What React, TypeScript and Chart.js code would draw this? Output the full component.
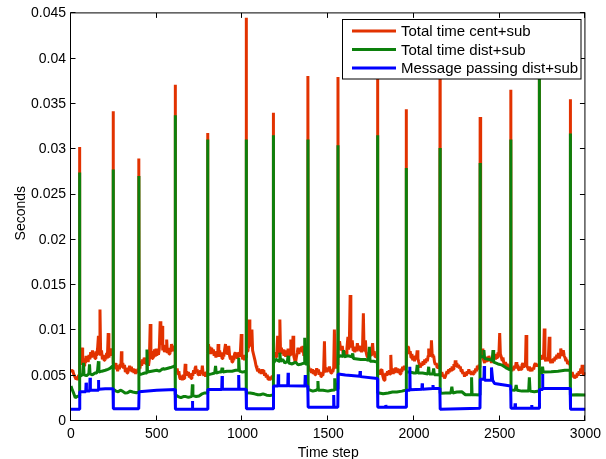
import React, { useEffect, useRef } from "react";
import { Chart, registerables } from "chart.js";

Chart.register(...registerables);

const xTicks = [0, 500, 1000, 1500, 2000, 2500, 3000];
const yTicks = [0, 0.005, 0.01, 0.015, 0.02, 0.025, 0.03, 0.035, 0.04, 0.045];
const xTitle = "Time step";
const yTitle = "Seconds";
const seriesLabels = ["Total time cent+sub", "Total time dist+sub", "Message passing dist+sub"];
const seriesColors = ["#e23200", "#0c800c", "#0000ff"];

// [time step, seconds]
const redSeries: [number, number][] = [
  [0, .0057], [5, .0054], [10, .0056], [15, .0052], [20, .0050], [25, .0048], [30, .0046], [35, .0049], [40, .0045], [44, .0050], [49, .0051],
  [50, .03025],
  [51, .0064], [55, .0070], [60, .0062], [65, .0081], [68, .0063], [72, .0069], [76, .0061], [80, .0068], [84, .0064], [88, .0072], [92, .0066],
  [96, .0071], [100, .0065], [105, .0073], [110, .0068], [115, .0076], [120, .0070], [125, .0078], [130, .0071], [135, .0074], [140, .0069],
  [145, .0077], [150, .0072], [155, .0080], [160, .0094], [164, .0074], [169, .0123], [173, .0072], [178, .0078], [183, .0068], [188, .0073],
  [193, .0067], [198, .0072], [203, .0068], [208, .0075], [212, .0069], [217, .0097], [221, .0070], [226, .0077], [231, .0072], [236, .0080],
  [240, .0074], [245, .0079],
  [246, .0342],
  [247, .0064], [252, .0058], [257, .0064], [262, .0057], [267, .0062], [272, .0055], [277, .0060], [282, .0057], [287, .0063], [291, .0059],
  [294, .0077], [297, .0060], [302, .0064], [307, .0058], [312, .0062], [317, .0054], [322, .0058], [327, .0053], [332, .0059], [337, .0056],
  [342, .0061], [347, .0055], [352, .0060], [357, .0054], [362, .0058], [367, .0053], [372, .0057], [377, .0052], [382, .0056], [387, .0053],
  [392, .0058], [395, .0056],
  [396, .02897],
  [397, .0063], [402, .0058], [407, .0066], [412, .0061], [417, .0068], [422, .0063], [427, .0070], [432, .0064], [437, .0069], [442, .0062],
  [447, .0067], [452, .0061], [457, .0068], [462, .0107], [466, .0070], [470, .0077], [474, .0069], [478, .0075], [482, .0070], [487, .0079],
  [491, .0071], [496, .0080], [500, .0072], [505, .0078], [510, .0073], [515, .0080], [520, .0110], [524, .0084], [528, .0090], [531, .0105],
  [535, .0078], [540, .0084], [545, .0076], [550, .0082], [555, .0077], [558, .0090], [562, .0075], [567, .0080], [572, .0074], [577, .0081],
  [582, .0076], [586, .0085], [590, .0078], [595, .0083], [600, .0077], [604, .0082], [607, .0080],
  [608, .03713],
  [609, .0058], [614, .0054], [619, .0058], [624, .0052], [629, .0055], [634, .0048], [639, .0046], [644, .0050], [649, .0045], [654, .0051],
  [659, .0047], [663, .0054], [666, .0063], [670, .0050], [675, .0055], [680, .0050], [685, .0054], [690, .0048], [695, .0052], [700, .0047],
  [705, .0053], [710, .0050], [715, .0056], [720, .0052], [724, .0059], [727, .0061], [731, .0054], [736, .0057], [741, .0051], [746, .0054],
  [751, .0050], [756, .0056], [761, .0052], [766, .0061], [770, .0053], [775, .0050], [780, .0054], [785, .0049], [790, .0053], [796, .0055],
  [797, .0318],
  [798, .0075], [802, .0085], [806, .0076], [810, .0082], [815, .0074], [820, .0081], [825, .0075], [830, .0079], [835, .0072], [840, .0076],
  [845, .0070], [850, .0077], [855, .0071], [858, .0085], [862, .0074], [867, .0078], [872, .0071], [877, .0075], [881, .0069], [886, .0076],
  [891, .0071], [896, .0079], [901, .0085], [905, .0074], [910, .0080], [915, .0073], [920, .0083], [925, .0072], [930, .0068], [935, .0072],
  [939, .0065], [944, .0071], [949, .0067], [954, .0074], [958, .0076], [963, .0070], [968, .0075], [973, .0069], [978, .0076], [983, .0071],
  [988, .0077], [993, .0096], [997, .0072], [1002, .0068], [1007, .0073], [1012, .0067], [1017, .0072], [1021, .0070],
  [1022, .04452],
  [1023, .0082], [1028, .0077], [1032, .0088], [1036, .0080], [1039, .0112], [1043, .0084], [1047, .0092], [1051, .0083], [1055, .0101],
  [1059, .0078], [1064, .0074], [1069, .0070], [1074, .0066], [1079, .0061], [1084, .0058], [1089, .0055], [1094, .0058], [1099, .0053],
  [1104, .0056], [1109, .0052], [1114, .0057], [1119, .0053], [1124, .0056], [1129, .0050], [1134, .0053], [1139, .0048], [1144, .0051],
  [1149, .0046], [1154, .0049], [1159, .0045], [1164, .0048], [1169, .0046], [1174, .0050], [1179, .0049],
  [1180, .03404],
  [1181, .0068], [1185, .0073], [1189, .0070], [1193, .0076], [1197, .0071], [1201, .0078], [1205, .0094], [1209, .0074], [1214, .0080],
  [1218, .0112], [1222, .0075], [1227, .0081], [1232, .0074], [1237, .0079], [1242, .0072], [1247, .0077], [1252, .0071], [1257, .0078],
  [1262, .0073], [1266, .0080], [1270, .0072], [1275, .0077], [1279, .0073], [1282, .0090], [1286, .0074], [1291, .0079], [1295, .0094],
  [1299, .0072], [1304, .0068], [1309, .0064], [1314, .0070], [1319, .0075], [1324, .0081], [1329, .0074], [1334, .0080], [1340, .0077],
  [1345, .0082], [1350, .0076], [1353, .0083], [1358, .0072], [1363, .0075], [1368, .0066], [1373, .0070], [1378, .0067], [1381, .0070],
  [1382, .03808],
  [1383, .0062], [1388, .0058], [1393, .0055], [1398, .0058], [1403, .0053], [1408, .0057], [1413, .0052], [1418, .0056], [1423, .0051],
  [1428, .0055], [1433, .0058], [1438, .0054], [1443, .0057], [1448, .0051], [1453, .0054], [1458, .0049], [1463, .0053], [1468, .0050],
  [1473, .0055], [1478, .0088], [1482, .0055], [1487, .0059], [1492, .0054], [1497, .0058], [1502, .0055], [1507, .0060], [1512, .0055],
  [1517, .0053], [1522, .0057], [1527, .0054], [1532, .0059], [1536, .0101], [1540, .0062], [1545, .0058], [1550, .0064], [1556, .0062],
  [1557, .03797],
  [1558, .0085], [1562, .0079], [1566, .0088], [1571, .0081], [1576, .0078], [1582, .0083], [1587, .0075], [1591, .0073], [1595, .0071],
  [1600, .0077], [1605, .0074], [1609, .0080], [1615, .0093], [1619, .0079], [1623, .0083], [1628, .0139], [1632, .0081], [1636, .0087],
  [1640, .0089], [1645, .0078], [1650, .0082], [1655, .0076], [1660, .0081], [1665, .0077], [1670, .0086], [1675, .0079], [1680, .0083],
  [1685, .0077], [1690, .0082], [1695, .0076], [1700, .0080], [1705, .0119], [1709, .0078], [1713, .0084], [1717, .0089], [1721, .0076],
  [1726, .0072], [1731, .0070], [1736, .0075], [1741, .0072], [1746, .0078], [1751, .0073], [1755, .0080], [1759, .0086], [1763, .0074],
  [1768, .0077], [1773, .0071], [1778, .0074], [1783, .0070], [1787, .0072],
  [1788, .0400],
  [1789, .0058], [1793, .0052], [1797, .0055], [1802, .0051], [1807, .0056], [1813, .0057], [1818, .0050], [1822, .0047], [1826, .0045],
  [1831, .0049], [1836, .0053], [1841, .0050], [1846, .0055], [1851, .0051], [1856, .0056], [1861, .0052], [1865, .0073], [1869, .0054],
  [1874, .0057], [1879, .0052], [1884, .0058], [1889, .0053], [1894, .0059], [1899, .0054], [1904, .0058], [1909, .0053], [1914, .0057],
  [1919, .0052], [1924, .0058], [1929, .0054], [1934, .0060], [1939, .0056], [1944, .0061], [1949, .0057], [1954, .0060],
  [1955, .03441],
  [1956, .0078], [1960, .0083], [1964, .0076], [1968, .0082], [1973, .0074], [1978, .0077], [1983, .0070], [1988, .0074], [1993, .0067],
  [1998, .0071], [2003, .0066], [2008, .0072], [2013, .0068], [2019, .0078], [2023, .0069], [2028, .0065], [2033, .0062], [2038, .0059],
  [2043, .0064], [2048, .0061], [2053, .0066], [2058, .0062], [2063, .0068], [2068, .0064], [2073, .0069], [2078, .0066], [2083, .0072],
  [2086, .0080], [2090, .0071], [2095, .0076], [2099, .0072], [2102, .0089], [2106, .0074], [2110, .0070], [2115, .0072], [2120, .0065],
  [2125, .0062], [2130, .0064], [2135, .0059], [2140, .0062], [2145, .0058], [2151, .0060],
  [2152, .0400],
  [2153, .0055], [2158, .0051], [2163, .0054], [2168, .0049], [2173, .0051], [2178, .0047], [2183, .0049], [2188, .0052], [2193, .0055],
  [2198, .0052], [2203, .0057], [2208, .0054], [2213, .0058], [2218, .0055], [2223, .0060], [2228, .0057], [2233, .0063], [2238, .0060],
  [2241, .0067], [2245, .0061], [2250, .0064], [2255, .0059], [2260, .0062], [2265, .0058], [2270, .0060], [2275, .0055], [2280, .0057],
  [2285, .0052], [2290, .0054], [2295, .0049], [2300, .0052], [2305, .0050], [2310, .0055], [2315, .0052], [2320, .0057], [2325, .0053],
  [2330, .0055], [2335, .0051], [2340, .0054], [2345, .0052], [2350, .0056], [2355, .0053], [2360, .0058], [2365, .0055], [2370, .0061],
  [2375, .0057], [2380, .0062], [2385, .0059],
  [2386, .03356],
  [2387, .0075], [2391, .0079], [2395, .0072], [2398, .0080], [2402, .0071], [2407, .0067], [2412, .0064], [2417, .0069], [2422, .0065],
  [2427, .0071], [2432, .0067], [2437, .0072], [2442, .0066], [2447, .0070], [2452, .0064], [2457, .0069], [2462, .0065], [2467, .0071],
  [2471, .0073], [2476, .0068], [2481, .0074], [2486, .0070], [2490, .0076], [2495, .0072], [2500, .0097], [2504, .0074], [2509, .0071],
  [2514, .0067], [2519, .0070], [2524, .0064], [2529, .0062], [2534, .0065], [2539, .0060], [2544, .0063], [2549, .0059], [2554, .0062],
  [2559, .0058], [2564, .0060],
  [2565, .03658],
  [2566, .0058], [2571, .0055], [2576, .0059], [2581, .0056], [2586, .0061], [2591, .0058], [2596, .0065], [2600, .0059], [2605, .0062],
  [2610, .0057], [2615, .0056], [2620, .0060], [2625, .0057], [2630, .0062], [2635, .0064], [2640, .0059], [2645, .0063], [2650, .0060],
  [2654, .0095], [2658, .0061], [2663, .0059], [2668, .0056], [2673, .0060], [2678, .0055], [2683, .0057], [2688, .0055], [2693, .0059],
  [2698, .0057], [2703, .0062], [2708, .0064], [2713, .0060], [2718, .0063], [2723, .0060], [2730, .0062],
  [2731, .0410],
  [2732, .0068], [2737, .0072], [2741, .0069], [2746, .0073], [2751, .0068], [2756, .0071], [2760, .0102], [2764, .0069], [2769, .0066],
  [2774, .0070], [2779, .0066], [2784, .0071], [2789, .0093], [2793, .0068], [2798, .0064], [2803, .0068], [2808, .0064], [2813, .0069],
  [2818, .0066], [2823, .0071], [2828, .0068], [2833, .0073], [2838, .0070], [2843, .0075], [2848, .0069], [2852, .0073], [2856, .0080],
  [2861, .0076], [2866, .0072], [2871, .0078], [2876, .0072], [2881, .0070], [2886, .0066], [2891, .0068], [2896, .0063], [2901, .0066],
  [2906, .0062], [2911, .0065],
  [2912, .03551],
  [2913, .0055], [2918, .0052], [2923, .0054], [2928, .0049], [2933, .0051], [2938, .0047], [2943, .0050], [2948, .0048], [2953, .0053],
  [2958, .0050], [2963, .0055], [2968, .0052], [2973, .0058], [2978, .0056], [2981, .0062], [2985, .0054], [2990, .0050], [2995, .0053],
  [3000, .0051],
];

const greenSeries: [number, number][] = [
  [0, .00386], [8, .0034], [15, .0031], [25, .00257], [35, .0027], [49, .00276], [50, .02743], [51, .0049], [58, .0050], [65, .0051],
  [69, .0052], [73, .00643], [76, .0051], [90, .0050], [104, .0052], [108, .00625], [111, .0052], [125, .0051], [140, .0053], [150, .0053],
  [155, .0056], [160, .0066], [163, .0054], [180, .0055], [200, .0056], [215, .0057], [227, .0058], [245, .0061], [246, .02776],
  [247, .0035], [262, .0033], [275, .00323], [288, .0034], [300, .0033], [315, .0031], [330, .00312], [345, .0033], [360, .0032],
  [381, .00312], [395, .0032], [396, .02706], [397, .0051], [415, .0052], [430, .0053], [440, .0053], [443, .0079], [446, .0054],
  [470, .0055], [500, .0056], [515, .0055], [531, .0057], [535, .00588], [540, .0057], [560, .0058], [580, .0059], [595, .0060],
  [607, .0061], [608, .03375], [609, .0029], [625, .0027], [641, .00257], [655, .0027], [670, .0027], [685, .0026], [700, .0027],
  [705, .0030], [708, .00404], [711, .0028], [730, .0027], [747, .00276], [765, .0030], [780, .0031], [796, .0031], [797, .03107],
  [798, .0051], [820, .0052], [838, .0053], [843, .00607], [847, .0053], [865, .0054], [877, .0054], [881, .00588], [885, .0054],
  [910, .0055], [939, .0055], [960, .0056], [974, .0056], [978, .00698], [982, .0055], [1000, .0054], [1021, .0055], [1022, .03107],
  [1023, .00312], [1045, .0031], [1070, .0030], [1090, .0029], [1103, .0029], [1120, .0030], [1141, .00285], [1160, .0028], [1179, .0029],
  [1180, .03154], [1181, .0064], [1195, .0068], [1213, .0066], [1218, .00754], [1222, .0066], [1235, .0068], [1247, .0064], [1262, .0066],
  [1266, .0072], [1270, .0064], [1290, .0063], [1310, .0065], [1324, .0062], [1345, .0063], [1359, .0064], [1363, .00919], [1367, .0063],
  [1381, .0063], [1382, .03107], [1383, .00349], [1410, .0033], [1430, .0034], [1437, .0035], [1440, .00441], [1443, .0034], [1470, .0034],
  [1498, .0033], [1520, .0034], [1534, .00342], [1538, .00471], [1541, .0035], [1556, .0035], [1557, .03044], [1558, .00709], [1575, .0072],
  [1585, .0071], [1590, .00783], [1594, .0071], [1615, .0072], [1638, .0071], [1643, .00746], [1647, .0069], [1690, .0068], [1715, .0068],
  [1735, .0067], [1740, .0082], [1744, .0066], [1765, .0066], [1787, .0065], [1788, .03154], [1789, .00312], [1820, .0030], [1850, .0031],
  [1875, .0032], [1900, .0032], [1930, .0033], [1954, .00342], [1955, .02794], [1956, .00544], [1980, .0054], [2000, .0053], [2014, .0053],
  [2019, .0062], [2023, .0053], [2050, .0053], [2081, .0052], [2086, .00599], [2089, .0052], [2110, .0052], [2115, .00581], [2119, .0051],
  [2135, .0051], [2151, .00507], [2152, .03014], [2153, .00305], [2185, .0031], [2215, .0031], [2221, .00379], [2226, .0031], [2250, .0032],
  [2279, .00323], [2300, .0029], [2320, .0029], [2333, .0029], [2336, .00482], [2339, .0029], [2360, .0029], [2385, .00287], [2386, .02849],
  [2387, .00709], [2404, .0071], [2408, .00783], [2412, .0069], [2435, .0068], [2456, .0067], [2461, .00783], [2465, .0065], [2490, .0063],
  [2510, .0062], [2535, .0059], [2564, .0056], [2565, .03107], [2566, .00342], [2590, .0034], [2596, .00397], [2601, .0034], [2630, .0033],
  [2669, .0033], [2673, .00482], [2677, .0033], [2702, .00323], [2730, .0033], [2731, .0395], [2732, .00526], [2746, .0053], [2750, .00599],
  [2754, .0054], [2800, .00544], [2840, .0055], [2880, .0056], [2911, .0056], [2912, .03173], [2913, .00287], [2950, .0029], [3000, .00287],
];

const blueSeries: [number, number][] = [
  [0, .00129], [49, .00129], [51, .00323], [86, .00323], [88, .00423], [90, .0033], [109, .0033], [111, .00478], [113, .0034],
  [158, .0034], [160, .00452], [162, .0035], [200, .00357], [245, .00357], [247, .00136], [395, .00136], [397, .00323], [500, .0034],
  [607, .00349], [609, .00129], [706, .00129], [708, .0022], [710, .00129], [796, .00129], [798, .00349], [879, .00349], [881, .00496],
  [883, .0035], [976, .0035], [978, .00507], [980, .0035], [1021, .0035], [1023, .00136], [1179, .00136], [1181, .00386], [1207, .00386],
  [1209, .00515], [1211, .00388], [1264, .00388], [1266, .00533], [1268, .0039], [1364, .00386], [1366, .00507], [1368, .00386],
  [1381, .00386], [1383, .00151], [1530, .00151], [1532, .00287], [1534, .00151], [1556, .00151], [1558, .00518], [1600, .00507],
  [1684, .00495], [1686, .00551], [1688, .0049], [1787, .0047], [1789, .00151], [1834, .00151], [1836, .00176], [1838, .00151],
  [1954, .00151], [1956, .0034], [1974, .0034], [1976, .00599], [1978, .00345], [2046, .0035], [2048, .00415], [2050, .0035],
  [2109, .0036], [2111, .00397], [2113, .0036], [2151, .0036], [2153, .00129], [2385, .0014], [2387, .0046], [2408, .0046],
  [2410, .00607], [2412, .0045], [2450, .0045], [2452, .00592], [2459, .0045], [2470, .00415], [2564, .00386], [2566, .0014],
  [2588, .0014], [2590, .00195], [2592, .0014], [2685, .0014], [2687, .00176], [2689, .0014], [2730, .0014], [2732, .00349],
  [2748, .00349], [2750, .00518], [2752, .0036], [2911, .0036], [2913, .00129], [3000, .00129],
];

const FONT = "'Liberation Sans', Arial, Helvetica, sans-serif";

const fmt = (v: number) => String(+Number(v).toFixed(3));

const matlabFrame = {
  id: "matlabFrame",
  afterDraw(chart: any) {
    const { ctx, chartArea: a, scales } = chart;
    const L = a.left - 0.5;
    const R = a.right - 0.5;
    const T = a.top - 0.5;
    const B = a.bottom - 0.5;
    ctx.save();
    ctx.strokeStyle = "#000";
    ctx.lineWidth = 1;
    ctx.strokeRect(L, T, R - L, B - T);
    const tl = 5;
    ctx.beginPath();
    xTicks.forEach((v) => {
      const px = Math.round(scales.x.getPixelForValue(v)) - 0.5;
      ctx.moveTo(px, B);
      ctx.lineTo(px, B - tl);
      ctx.moveTo(px, T);
      ctx.lineTo(px, T + tl);
    });
    yTicks.forEach((v) => {
      const py = Math.round(scales.y.getPixelForValue(v)) - 0.5;
      ctx.moveTo(L, py);
      ctx.lineTo(L + tl, py);
      ctx.moveTo(R, py);
      ctx.lineTo(R - tl, py);
    });
    ctx.stroke();

    ctx.fillStyle = "#000";
    ctx.font = `14px ${FONT}`;
    ctx.textAlign = "center";
    ctx.textBaseline = "alphabetic";
    ctx.fillText(xTitle, (a.left + a.right) / 2, 457);
    ctx.save();
    ctx.translate(25, (a.top + a.bottom) / 2 - 4);
    ctx.rotate(-Math.PI / 2);
    ctx.fillText(yTitle, 0, 0);
    ctx.restore();

    const bx = 342.5, by = 19.5, bw = 238.5, bh = 59.5;
    ctx.fillStyle = "#fff";
    ctx.fillRect(bx, by, bw, bh);
    ctx.strokeStyle = "#000";
    ctx.lineWidth = 1;
    ctx.strokeRect(bx, by, bw, bh);
    const rows = [31, 49.5, 68];
    ctx.font = `15px ${FONT}`;
    ctx.textAlign = "left";
    ctx.textBaseline = "middle";
    rows.forEach((ry, i) => {
      ctx.strokeStyle = seriesColors[i];
      ctx.lineWidth = 3;
      ctx.beginPath();
      ctx.moveTo(352, ry);
      ctx.lineTo(396, ry);
      ctx.stroke();
      ctx.fillStyle = "#000";
      ctx.fillText(seriesLabels[i], 401, ry + 1);
    });
    ctx.restore();
  },
};

export default function App() {
  const canvasRef = useRef<HTMLCanvasElement | null>(null);

  useEffect(() => {
    document.body.style.margin = "0";
    const canvas = canvasRef.current;
    if (!canvas) return;
    const toPts = (s: [number, number][]) => s.map(([x, y]) => ({ x, y }));
    const series = [redSeries, greenSeries, blueSeries];
    const chart = new Chart(canvas, {
      type: "line",
      data: {
        datasets: series.map((s, i) => ({
          label: seriesLabels[i],
          data: toPts(s),
          borderColor: seriesColors[i],
          backgroundColor: seriesColors[i],
          borderWidth: 3,
          pointRadius: 0,
          tension: 0,
          fill: false,
          borderJoinStyle: "bevel" as const,
          order: 3 - i,
        })),
      },
      options: {
        animation: false,
        responsive: false,
        devicePixelRatio: 1,
        layout: { padding: { top: 13, right: 16, left: 0, bottom: 0 } },
        plugins: { legend: { display: false }, tooltip: { enabled: false } },
        scales: {
          x: {
            type: "linear",
            min: 0,
            max: 3000,
            afterBuildTicks: (s: any) => {
              s.ticks = xTicks.map((v) => ({ value: v }));
            },
            afterFit: (s: any) => {
              s.height = 38;
            },
            grid: { display: false, drawTicks: false },
            border: { display: false },
            ticks: {
              color: "#000",
              font: { family: FONT, size: 14 },
              padding: 5,
              maxRotation: 0,
              autoSkip: false,
              callback: (v: any) => String(v),
            },
          },
          y: {
            type: "linear",
            min: 0,
            max: 0.045,
            afterBuildTicks: (s: any) => {
              s.ticks = yTicks.map((v) => ({ value: v }));
            },
            afterFit: (s: any) => {
              s.width = 71;
            },
            grid: { display: false, drawTicks: false },
            border: { display: false },
            ticks: {
              color: "#000",
              font: { family: FONT, size: 14 },
              padding: 5,
              autoSkip: false,
              callback: (v: any) => fmt(v),
            },
          },
        },
      },
      plugins: [matlabFrame],
    });
    return () => chart.destroy();
  }, []);

  return (
    <div style={{ position: "fixed", left: 0, top: 0, width: 606, height: 459, background: "#fff" }}>
      <canvas ref={canvasRef} width={606} height={459} style={{ width: 606, height: 459 }} />
    </div>
  );
}
